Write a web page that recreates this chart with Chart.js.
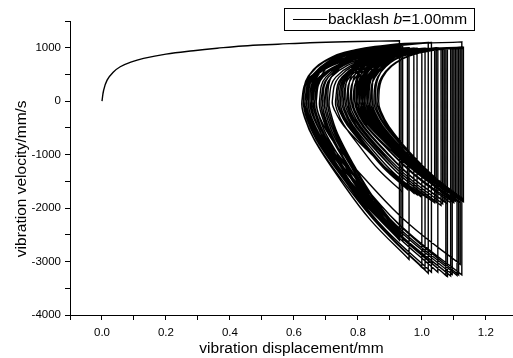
<!DOCTYPE html>
<html>
<head>
<meta charset="utf-8">
<script src="https://cdn.jsdelivr.net/npm/chart.js@4.4.1/dist/chart.umd.min.js"></script>
<style>
  html, body { margin: 0; padding: 0; background: #fff; }
  #wrap { width: 513px; height: 358px; }
</style>
</head>
<body>
<div id="wrap"><canvas id="phaseChart"></canvas></div>
<script>
// displacement (mm), velocity (mm/s)
const approach = [
  [0, 0], [0.005, 200], [0.016, 394], [0.035, 540], [0.057, 644], [0.09, 730],
  [0.13, 800], [0.2, 880], [0.286, 944], [0.36, 990], [0.44, 1032], [0.55, 1065],
  [0.65, 1094], [0.8, 1116]
];

// each loop: impact top, impact bottom, lower branch, vertex, upper branch
const loopsEarly = [
  [[0.93,1130],[0.93,-2550],[0.826,-1910],[0.744,-1280],[0.675,-640],[0.647,-260],[0.64,0],[0.66,500],[0.757,880],[0.894,1045]],
  [[1.03,1100],[1.03,-3200],[0.886,-2400],[0.774,-1600],[0.678,-800],[0.64,-320],[0.63,0],[0.645,470],[0.72,830],[0.825,990]],
  [[0.93,1040],[0.93,-2500],[0.833,-1880],[0.757,-1250],[0.692,-620],[0.667,-250],[0.66,0],[0.683,450],[0.798,810],[0.959,960]],
  [[1.12,1010],[1.12,-1850],[1.005,-1390],[0.915,-920],[0.838,-460],[0.808,-190],[0.80,0],[0.817,450],[0.899,800],[1.015,950]],
  [[1.13,1000],[1.13,-1860],[1.018,-1400],[0.932,-930],[0.857,-470],[0.828,-190],[0.82,0],[0.834,450],[0.904,800],[1.002,950]],
  [[1.10,1000],[1.10,-1900],[0.988,-1420],[0.902,-950],[0.827,-480],[0.798,-190],[0.79,0],[0.797,460],[0.832,820],[0.881,970]],
  [[0.93,1020],[0.93,-2600],[0.827,-1950],[0.748,-1300],[0.679,-650],[0.652,-260],[0.645,0],[0.661,450],[0.74,800],[0.85,950]],
  [[0.96,1000],[0.96,-2960],[0.839,-2220],[0.746,-1480],[0.665,-740],[0.633,-300],[0.625,0],[0.65,450],[0.777,790],[0.953,940]],
  [[1.13,990],[1.13,-1840],[1.026,-1380],[0.944,-920],[0.875,-460],[0.847,-180],[0.84,0],[0.851,450],[0.906,790],[0.983,940]],
  [[1.06,990],[1.06,-1950],[0.956,-1460],[0.874,-980],[0.805,-490],[0.777,-200],[0.77,0],[0.778,450],[0.818,800],[0.874,950]],
  [[0.93,1000],[0.93,-2450],[0.84,-1840],[0.77,-1230],[0.71,-610],[0.686,-250],[0.68,0],[0.70,450],[0.80,800],[0.94,950]],
  [[1.08,1000],[1.08,-3280],[0.92,-2460],[0.795,-1640],[0.688,-820],[0.646,-330],[0.635,0],[0.66,500],[0.782,890],[0.954,1055]]
];

const loopsMid = [
  [[1.125,1110],[1.125,-3250],[0.954,-2440],[0.821,-1620],[0.707,-810],[0.662,-320],[0.65,0],[0.667,450],[0.75,790],[0.868,940]],
  [[0.985,990],[0.985,-1750],[0.897,-1310],[0.828,-880],[0.769,-440],[0.746,-180],[0.74,0],[0.76,450],[0.857,800],[0.994,955]],
  [[1.13,1005],[1.13,-1870],[1.015,-1400],[0.925,-940],[0.848,-470],[0.818,-190],[0.81,0],[0.822,450],[0.879,790],[0.96,940]],
  [[1.04,990],[1.04,-1900],[0.939,-1420],[0.861,-950],[0.794,-480],[0.767,-190],[0.76,0],[0.769,460],[0.811,820],[0.871,980]],
  [[0.93,1030],[0.93,-2480],[0.847,-1860],[0.783,-1240],[0.728,-620],[0.706,-250],[0.70,0],[0.715,440],[0.79,780],[0.895,930]],
  [[1.0,980],[1.0,-3110],[0.87,-2330],[0.77,-1560],[0.683,-780],[0.649,-310],[0.64,0],[0.665,450],[0.787,810],[0.959,960]],
  [[1.13,1010],[1.13,-1830],[1.022,-1370],[0.938,-920],[0.866,-460],[0.838,-180],[0.83,0],[0.845,450],[0.92,800],[1.025,950]],
  [[1.13,1000],[1.13,-1850],[1.029,-1390],[0.951,-920],[0.884,-460],[0.857,-180],[0.85,0],[0.862,450],[0.922,800],[1.006,950]],
  [[1.09,1000],[1.09,-3270],[0.924,-2450],[0.796,-1640],[0.685,-820],[0.642,-330],[0.63,0],[0.65,500],[0.747,880],[0.884,1045]],
  [[1.02,1100],[1.02,-1820],[0.912,-1370],[0.828,-910],[0.756,-460],[0.728,-180],[0.72,0],[0.741,450],[0.843,800],[0.987,950]],
  [[1.13,1000],[1.13,-1880],[1.011,-1410],[0.919,-940],[0.84,-470],[0.808,-190],[0.80,0],[0.816,450],[0.895,800],[1.005,945]],
  [[1.115,995],[1.115,-3250],[0.951,-2440],[0.824,-1620],[0.715,-810],[0.671,-320],[0.66,0],[0.674,470],[0.741,830],[0.836,990]]
];

const loopsLate = [
  [[0.93,1040],[0.93,-2600],[0.831,-1950],[0.754,-1300],[0.688,-650],[0.662,-260],[0.655,0],[0.679,450],[0.798,800],[0.964,950]],
  [[1.13,1000],[1.13,-1850],[1.02,-1390],[0.935,-920],[0.862,-460],[0.833,-180],[0.825,0],[0.838,450],[0.902,790],[0.991,940]],
  [[1.08,990],[1.08,-1920],[0.972,-1440],[0.888,-960],[0.816,-480],[0.788,-190],[0.78,0],[0.788,450],[0.825,800],[0.878,950]],
  [[0.93,1000],[0.93,-2420],[0.851,-1820],[0.789,-1210],[0.736,-600],[0.716,-240],[0.71,0],[0.731,450],[0.836,800],[0.983,955]],
  [[1.13,1005],[1.13,-1860],[1.017,-1400],[0.928,-930],[0.853,-470],[0.823,-190],[0.815,0],[0.83,450],[0.907,800],[1.013,950]],
  [[1.12,1000],[1.12,-3050],[0.958,-2290],[0.832,-1520],[0.724,-760],[0.681,-300],[0.67,0],[0.683,460],[0.748,820],[0.839,970]],
  [[0.93,1020],[0.93,-2550],[0.844,-1910],[0.776,-1280],[0.719,-640],[0.696,-260],[0.69,0],[0.708,450],[0.798,800],[0.924,945]],
  [[1.05,995],[1.05,-3200],[0.902,-2400],[0.788,-1600],[0.689,-800],[0.65,-320],[0.64,0],[0.665,450],[0.787,800],[0.959,950]],
  [[1.13,1000],[1.13,-1840],[1.033,-1380],[0.957,-920],[0.892,-460],[0.867,-180],[0.86,0],[0.874,450],[0.941,800],[1.036,950]],
  [[1.13,1000],[1.13,-1870],[1.009,-1400],[0.916,-940],[0.835,-470],[0.803,-190],[0.795,0],[0.81,450],[0.887,800],[0.993,950]]
];

const loopsSettled = [
  [[1.10,1000],[1.10,-1880],[1.003,-1410],[0.927,-940],[0.862,-470],[0.837,-190],[0.83,0],[0.836,450],[0.863,800],[0.902,950]],
  [[0.94,1000],[0.94,-1700],[0.864,-1280],[0.806,-850],[0.755,-430],[0.735,-170],[0.73,0],[0.75,450],[0.849,800],[0.987,950]],
  [[1.125,1000],[1.125,-1860],[1.024,-1400],[0.946,-930],[0.879,-470],[0.852,-190],[0.845,0],[0.849,470],[0.871,840],[0.90,1000]],
  [[0.93,1050],[0.93,-2530],[0.824,-1900],[0.741,-1270],[0.67,-630],[0.642,-250],[0.635,0],[0.657,450],[0.766,800],[0.918,945]],
  [[1.07,995],[1.07,-1880],[0.967,-1410],[0.888,-940],[0.819,-470],[0.792,-190],[0.785,0],[0.802,450],[0.889,810],[1.009,960]],
  [[1.13,1010],[1.13,-1850],[1.024,-1390],[0.941,-920],[0.87,-460],[0.842,-180],[0.835,0],[0.843,440],[0.885,790],[0.942,935]],
  [[1.0,985],[1.0,-1780],[0.912,-1340],[0.843,-890],[0.784,-450],[0.761,-180],[0.755,0],[0.774,450],[0.868,800],[0.999,950]],
  [[1.13,1000],[1.13,-1870],[1.013,-1400],[0.922,-940],[0.844,-470],[0.813,-190],[0.805,0],[0.819,450],[0.891,800],[0.99,945]],
  [[1.09,995],[1.09,-1900],[0.984,-1420],[0.901,-950],[0.83,-480],[0.802,-190],[0.795,0],[0.802,460],[0.836,820],[0.883,980]],
  [[0.93,1030],[0.93,-2560],[0.835,-1920],[0.76,-1280],[0.697,-640],[0.672,-260],[0.665,0],[0.687,450],[0.799,800],[0.954,950]],
  [[1.11,1000],[1.11,-3260],[0.943,-2450],[0.812,-1630],[0.701,-820],[0.657,-330],[0.645,0],[0.659,450],[0.731,810],[0.83,960]],
  [[0.93,1010],[0.93,-2470],[0.845,-1850],[0.78,-1240],[0.723,-620],[0.701,-250],[0.695,0],[0.717,450],[0.826,800],[0.978,950]],
  [[1.13,1000],[1.13,-1860],[1.031,-1400],[0.954,-930],[0.888,-470],[0.862,-190],[0.855,0],[0.864,450],[0.908,790],[0.969,940]]
];

const loopsFinal = [
  [[1.03,990],[1.03,-1860],[0.935,-1400],[0.86,-930],[0.797,-470],[0.772,-190],[0.765,0],[0.783,450],[0.875,800],[1.002,955]],
  [[1.13,1005],[1.13,-1840],[1.017,-1380],[0.928,-920],[0.853,-460],[0.823,-180],[0.815,0],[0.822,450],[0.857,800],[0.906,945]],
  [[0.955,995],[0.955,-1650],[0.879,-1240],[0.821,-820],[0.77,-410],[0.75,-170],[0.745,0],[0.764,450],[0.858,800],[0.989,950]],
  [[1.12,1000],[1.12,-1890],[1.005,-1420],[0.915,-950],[0.838,-470],[0.808,-190],[0.80,0],[0.807,450],[0.839,800],[0.885,950]],
  [[0.93,1000],[0.93,-2440],[0.849,-1830],[0.786,-1220],[0.732,-610],[0.711,-240],[0.705,0],[0.721,490],[0.80,870],[0.91,1035]],
  [[1.02,1090],[1.02,-3220],[0.881,-2420],[0.774,-1610],[0.681,-800],[0.645,-320],[0.635,0],[0.66,450],[0.784,800],[0.957,950]],
  [[1.13,1000],[1.13,-1850],[1.022,-1390],[0.938,-920],[0.866,-460],[0.838,-180],[0.83,0],[0.842,450],[0.901,790],[0.983,940]],
  [[1.065,990],[1.065,-1920],[0.961,-1440],[0.879,-960],[0.81,-480],[0.782,-190],[0.775,0],[0.793,450],[0.882,800],[1.006,950]],
  [[1.13,1000],[1.13,-1880],[1.018,-1410],[0.932,-940],[0.857,-470],[0.828,-190],[0.82,0],[0.826,460],[0.853,820],[0.892,975]],
  [[0.93,1025],[0.93,-2500],[0.836,-1880],[0.764,-1250],[0.701,-620],[0.677,-250],[0.67,0],[0.691,450],[0.798,800],[0.946,950]],
  [[1.095,1000],[1.095,-3240],[0.931,-2430],[0.804,-1620],[0.695,-810],[0.651,-320],[0.64,0],[0.658,440],[0.748,790],[0.874,935]],
  [[1.0,985],[1.0,-1800],[0.905,-1350],[0.83,-900],[0.767,-450],[0.742,-180],[0.735,0],[0.755,450],[0.854,800],[0.992,950]],
  [[1.13,1000],[1.13,-1860],[1.026,-1400],[0.944,-930],[0.875,-470],[0.847,-190],[0.84,0],[0.854,450],[0.924,800],[1.022,945]]
];

const loopsTail = [
  [[1.12,995],[1.12,-1900],[1.001,-1420],[0.909,-950],[0.83,-480],[0.798,-190],[0.79,0],[0.799,450],[0.846,790],[0.91,940]],
  [[0.975,990],[0.975,-1720],[0.894,-1290],[0.831,-860],[0.777,-430],[0.756,-170],[0.75,0],[0.768,450],[0.857,800],[0.981,950]],
  [[1.105,1000],[1.105,-1870],[0.999,-1400],[0.916,-940],[0.845,-470],[0.817,-190],[0.81,0],[0.817,470],[0.849,830],[0.895,990]],
  [[0.94,1040],[0.94,-2620],[0.828,-1970],[0.742,-1310],[0.667,-650],[0.638,-260],[0.63,0],[0.651,450],[0.755,800],[0.90,945]],
  [[1.045,995],[1.045,-1890],[0.948,-1420],[0.872,-950],[0.807,-470],[0.782,-190],[0.775,0],[0.793,450],[0.882,800],[1.006,950]],
  [[1.13,1000],[1.13,-1850],[1.011,-1390],[0.919,-920],[0.84,-460],[0.808,-180],[0.80,0],[0.814,450],[0.883,800],[0.979,945]],
  [[1.075,995],[1.075,-3260],[0.924,-2450],[0.806,-1630],[0.705,-820],[0.666,-330],[0.655,0],[0.669,450],[0.739,810],[0.837,960]],
  [[0.935,1010],[0.935,-2490],[0.845,-1870],[0.775,-1250],[0.715,-620],[0.691,-250],[0.685,0],[0.707,450],[0.814,800],[0.965,950]],
  [[1.115,1000],[1.115,-1830],[1.011,-1370],[0.929,-920],[0.86,-460],[0.832,-180],[0.825,0],[0.834,450],[0.881,790],[0.945,940]],
  [[1.01,990],[1.01,-3150],[0.871,-2360],[0.764,-1580],[0.671,-790],[0.635,-320],[0.625,0],[0.65,450],[0.777,800],[0.953,950]],
  [[1.13,1000],[1.13,-1870],[1.035,-1400],[0.96,-940],[0.897,-470],[0.872,-190],[0.865,0],[0.878,450],[0.943,800],[1.034,950]],
  [[1.125,1000],[1.125,-1850],[1.012,-1390],[0.923,-920],[0.848,-460],[0.818,-180],[0.81,0],[0.826,450],[0.906,800],[1.018,950]]
];

const lastImpact = [1.13, 1000];

const legendLabel = ['backlash ', 'b', '=1.00mm'];

// build the trajectory
const path = approach.map(([x, v]) => ({ x: x, y: v }));
[...loopsEarly, ...loopsMid, ...loopsLate, ...loopsSettled, ...loopsFinal, ...loopsTail].forEach(loop => {
  loop.forEach(([x, v], i) => {
    path.push({ x: x, y: v });
    // impact points doubled so the spline keeps the velocity jump straight
    if (i < 2) path.push({ x: x, y: v });
  });
});
path.push({ x: lastImpact[0], y: lastImpact[1] });

const FONT = '"Liberation Sans", Arial, sans-serif';

const legendBox = {
  id: 'legendBox',
  afterDraw(chart) {
    const ctx = chart.ctx;
    ctx.save();
    ctx.strokeStyle = '#000';
    ctx.lineWidth = 1;
    ctx.strokeRect(284.5, 8.5, 190, 22);
    ctx.beginPath();
    ctx.moveTo(293, 19.5);
    ctx.lineTo(327, 19.5);
    ctx.stroke();
    ctx.fillStyle = '#000';
    ctx.textBaseline = 'middle';
    let x = 328;
    legendLabel.forEach((part, i) => {
      ctx.font = (i === 1 ? 'italic ' : '') + '15.5px ' + FONT;
      ctx.fillText(part, x, 20);
      x += ctx.measureText(part).width;
    });
    ctx.restore();
  }
};

const ctx = document.getElementById('phaseChart').getContext('2d');
new Chart(ctx, {
  type: 'scatter',
  data: {
    datasets: [{
      label: 'backlash b=1.00mm',
      data: path,
      showLine: true,
      borderColor: '#000',
      borderWidth: 1.4,
      pointRadius: 0,
      tension: 0.4,
      fill: false
    }]
  },
  options: {
    responsive: true,
    maintainAspectRatio: false,
    animation: false,
    layout: { padding: { top: 21, right: 0, bottom: 0, left: 0 } },
    plugins: {
      legend: { display: false },
      tooltip: { enabled: false }
    },
    scales: {
      x: {
        type: 'linear',
        min: -0.1,
        max: 1.285,
        afterFit(scale) { scale.height = 43; },
        border: { color: '#000', width: 1 },
        grid: { drawOnChartArea: false, color: '#000', tickLength: 5 },
        ticks: {
          stepSize: 0.1,
          includeBounds: false,
          autoSkip: false,
          maxRotation: 0,
          padding: 6,
          color: '#000',
          font: { family: FONT, size: 11.5 },
          callback(v) {
            const k = Math.round(v * 10);
            return k % 2 === 0 && k >= 0 ? (k / 10).toFixed(1) : '';
          }
        },
        title: {
          display: true,
          text: 'vibration displacement/mm',
          color: '#000',
          font: { family: FONT, size: 15.5 },
          padding: { top: 0, bottom: 0 }
        }
      },
      y: {
        min: -4000,
        max: 1500,
        afterFit(scale) { scale.width = 70; },
        border: { color: '#000', width: 1 },
        grid: { drawOnChartArea: false, color: '#000', tickLength: 5 },
        ticks: {
          stepSize: 500,
          includeBounds: false,
          autoSkip: false,
          padding: 4,
          color: '#000',
          font: { family: FONT, size: 11.5 },
          callback(v) {
            return v % 1000 === 0 && v < 1500 ? String(v) : '';
          }
        },
        title: {
          display: true,
          text: 'vibration velocity/mm/s     ',
          color: '#000',
          font: { family: FONT, size: 15.5 },
          padding: { top: 12, bottom: 0 }
        }
      }
    }
  },
  plugins: [legendBox]
});
</script>
</body>
</html>
